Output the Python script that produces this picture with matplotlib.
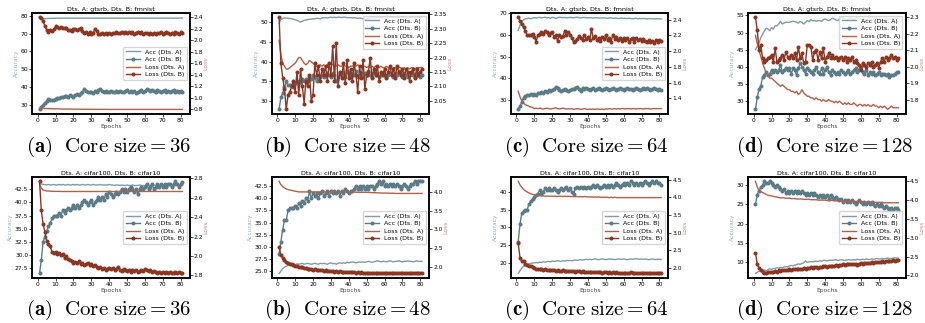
import numpy as np
import matplotlib
matplotlib.use("Agg")
import matplotlib.pyplot as plt
from matplotlib.ticker import MultipleLocator

plt.rcParams['mathtext.fontset'] = 'cm'

epochs = np.arange(1, 82)

# ---- row 1: gtsrb / fmnist ----
top_a_acc_a = [79.2, 78.5, 78.3, 78.4, 78.5, 78.5, 78.6, 78.5, 78.6, 78.6,
               78.7, 78.6, 78.6, 78.7, 78.6, 78.7, 78.7, 78.6, 78.7, 78.7,
               78.6, 78.7, 78.7, 78.6, 78.7, 78.7, 78.6, 78.7, 78.6, 78.7,
               78.7, 78.6, 78.7, 78.7, 78.6, 78.7, 78.7, 78.6, 78.7, 78.7,
               78.6, 78.7, 78.7, 78.6, 78.7, 78.6, 78.7, 78.7, 78.6, 78.7,
               78.7, 78.6, 78.7, 78.7, 78.6, 78.7, 78.6, 78.7, 78.7, 78.6,
               78.7, 78.7, 78.6, 78.7, 78.6, 78.7, 78.7, 78.6, 78.7, 78.7,
               78.6, 78.7, 78.6, 78.7, 78.7, 78.6, 78.7, 78.6, 78.7, 78.7,
               78.7]
top_a_acc_b = [27.5, 29.0, 30.0, 31.0, 32.0, 33.5, 33.0, 32.5, 33.0, 33.5,
               34.0, 34.0, 34.5, 34.5, 35.0, 35.0, 34.5, 35.5, 35.0, 34.5,
               35.5, 36.0, 35.5, 36.5, 37.0, 39.0, 38.0, 37.0, 37.0, 37.0,
               36.5, 38.0, 37.0, 38.5, 39.0, 38.0, 37.5, 38.0, 37.0, 37.5,
               38.0, 37.5, 37.0, 38.0, 37.5, 38.0, 37.5, 37.0, 38.0, 38.5,
               37.5, 38.0, 37.5, 38.0, 36.5, 37.5, 38.0, 38.5, 37.5, 38.0,
               39.0, 38.5, 38.0, 38.5, 38.0, 37.5, 38.5, 38.0, 37.5, 38.0,
               38.5, 37.5, 38.0, 37.5, 38.0, 38.5, 37.5, 38.0, 37.5, 38.0,
               37.5]
top_a_loss_a = [0.82, 0.82, 0.818, 0.816, 0.815, 0.814, 0.813, 0.812, 0.811, 0.81,
                0.81, 0.809, 0.808, 0.808, 0.807, 0.806, 0.806, 0.805, 0.805, 0.804,
                0.804, 0.804, 0.803, 0.803, 0.803, 0.803, 0.802, 0.802, 0.802, 0.802,
                0.802, 0.801, 0.801, 0.801, 0.801, 0.801, 0.801, 0.801, 0.8, 0.8,
                0.8, 0.8, 0.8, 0.8, 0.8, 0.8, 0.8, 0.8, 0.8, 0.8,
                0.8, 0.8, 0.8, 0.8, 0.8, 0.8, 0.8, 0.8, 0.8, 0.8,
                0.8, 0.8, 0.8, 0.8, 0.8, 0.8, 0.8, 0.8, 0.8, 0.8,
                0.8, 0.8, 0.8, 0.8, 0.8, 0.8, 0.8, 0.8, 0.8, 0.8,
                0.8]
top_a_loss_b = [2.40, 2.39, 2.33, 2.25, 2.18, 2.15, 2.17, 2.16, 2.19, 2.24,
                2.23, 2.22, 2.23, 2.21, 2.22, 2.21, 2.18, 2.17, 2.16, 2.20,
                2.19, 2.17, 2.19, 2.21, 2.16, 2.13, 2.15, 2.11, 2.14, 2.10,
                2.12, 2.20, 2.16, 2.11, 2.10, 2.12, 2.11, 2.13, 2.11, 2.12,
                2.10, 2.13, 2.12, 2.14, 2.12, 2.13, 2.15, 2.12, 2.14, 2.13,
                2.15, 2.12, 2.14, 2.11, 2.13, 2.15, 2.12, 2.14, 2.10, 2.13,
                2.12, 2.11, 2.13, 2.10, 2.12, 2.11, 2.13, 2.12, 2.14, 2.11,
                2.13, 2.15, 2.12, 2.10, 2.13, 2.11, 2.14, 2.12, 2.10, 2.14,
                2.13]

top_b_acc_a = [49.6, 50.5, 50.8, 50.9, 50.9, 50.8, 50.8, 50.7, 50.6, 50.5,
               50.3, 50.1, 49.9, 50.1, 50.3, 50.4, 50.5, 50.6, 50.6, 50.7,
               50.7, 50.8, 50.8, 50.7, 50.9, 51.0, 51.0, 50.9, 51.0, 51.1,
               51.0, 51.1, 51.0, 51.1, 51.1, 51.0, 51.1, 51.1, 51.0, 51.0,
               51.0, 50.9, 51.0, 50.9, 50.8, 50.9, 50.8, 50.7, 50.6, 50.6,
               50.8, 50.9, 51.0, 51.0, 50.9, 51.0, 51.0, 50.9, 51.0, 51.0,
               50.9, 51.0, 51.0, 51.1, 51.0, 51.0, 50.9, 51.0, 51.0, 51.1,
               51.0, 51.0, 50.9, 51.0, 51.0, 51.0, 50.9, 51.0, 51.0, 51.1,
               51.0]
top_b_acc_b = [28.0, 31.0, 32.0, 33.5, 35.0, 34.0, 34.0, 34.0, 33.5, 34.5,
               35.0, 34.5, 35.0, 35.5, 35.0, 35.5, 35.0, 36.0, 35.5, 36.5,
               36.0, 35.0, 35.5, 36.0, 36.5, 36.0, 36.5, 37.0, 36.5, 36.0,
               37.0, 36.5, 35.0, 36.0, 37.0, 36.5, 37.0, 36.0, 37.5, 36.5,
               36.0, 37.0, 36.5, 37.5, 36.0, 36.5, 37.0, 36.0, 37.0, 36.5,
               37.5, 36.5, 36.0, 37.0, 36.5, 37.0, 36.0, 36.5, 37.0, 36.5,
               36.0, 36.5, 37.0, 36.5, 36.0, 37.0, 36.5, 37.5, 36.5, 36.0,
               37.0, 36.5, 36.0, 36.5, 37.0, 36.5, 36.0, 37.0, 36.5, 36.0,
               36.5]
top_b_loss_a = [2.26, 2.21, 2.18, 2.17, 2.16, 2.16, 2.165, 2.17, 2.175, 2.18,
                2.19, 2.20, 2.20, 2.19, 2.18, 2.175, 2.18, 2.19, 2.185, 2.18,
                2.175, 2.17, 2.17, 2.175, 2.17, 2.175, 2.17, 2.175, 2.18, 2.18,
                2.175, 2.17, 2.17, 2.175, 2.17, 2.17, 2.175, 2.17, 2.17, 2.165,
                2.17, 2.17, 2.175, 2.17, 2.175, 2.17, 2.165, 2.17, 2.17, 2.165,
                2.17, 2.165, 2.17, 2.165, 2.17, 2.165, 2.165, 2.17, 2.165, 2.165,
                2.17, 2.165, 2.165, 2.16, 2.165, 2.165, 2.16, 2.165, 2.165, 2.16,
                2.165, 2.16, 2.165, 2.16, 2.165, 2.165, 2.16, 2.165, 2.165, 2.165,
                2.165]
top_b_loss_b = [2.34, 2.18, 2.13, 2.09, 2.02, 2.07, 2.08, 2.10, 2.12, 2.08,
                2.15, 2.07, 2.16, 2.10, 2.04, 2.12, 2.10, 2.14, 2.05, 2.07,
                2.18, 2.14, 2.17, 2.12, 2.16, 2.14, 2.17, 2.12, 2.18, 2.14,
                2.24, 2.12, 2.25, 2.10, 2.15, 2.13, 2.18, 2.11, 2.19, 2.13,
                2.16, 2.12, 2.18, 2.14, 2.08, 2.17, 2.13, 2.19, 2.09, 2.14,
                2.15, 2.20, 2.13, 2.16, 2.14, 2.17, 2.12, 2.15, 2.14, 2.16,
                2.13, 2.15, 2.17, 2.14, 2.16, 2.13, 2.17, 2.15, 2.14, 2.16,
                2.13, 2.16, 2.15, 2.12, 2.15, 2.16, 2.13, 2.16, 2.14, 2.15,
                2.16]

top_c_acc_a = [62.0, 64.5, 66.0, 67.0, 67.5, 67.5, 67.8, 67.5, 67.8, 68.0,
               67.8, 68.0, 68.1, 67.9, 68.0, 68.2, 67.9, 68.0, 67.7, 68.1,
               68.0, 67.6, 68.0, 68.2, 68.1, 68.0, 68.1, 67.9, 68.0, 68.1,
               68.0, 67.9, 68.1, 68.2, 68.0, 67.9, 68.0, 68.1, 67.9, 68.0,
               67.9, 68.0, 67.8, 67.9, 68.0, 67.8, 67.9, 67.8, 67.9, 67.8,
               67.7, 67.8, 67.9, 67.7, 67.8, 67.7, 67.6, 67.7, 67.8, 67.6,
               67.7, 67.6, 67.7, 67.6, 67.5, 67.6, 67.7, 67.5, 67.6, 67.5,
               67.6, 67.5, 67.4, 67.5, 67.6, 67.4, 67.5, 67.4, 67.5, 67.4,
               67.4]
top_c_acc_b = [25.5, 27.0, 29.0, 31.0, 31.5, 32.0, 32.0, 32.5, 32.0, 32.5,
               32.0, 33.0, 33.0, 33.5, 33.0, 34.0, 33.5, 34.5, 34.0, 34.5,
               35.0, 36.0, 35.5, 34.5, 34.0, 34.5, 35.0, 34.5, 34.0, 34.5,
               35.0, 35.0, 35.5, 36.0, 35.0, 34.0, 35.5, 35.0, 35.5, 35.0,
               34.5, 35.0, 35.5, 34.5, 35.0, 35.5, 35.0, 34.5, 35.0, 35.5,
               35.0, 34.5, 35.0, 35.5, 35.0, 34.5, 35.0, 35.5, 35.0, 34.5,
               35.0, 35.5, 35.0, 35.0, 34.5, 35.0, 35.5, 35.0, 34.5, 35.0,
               35.5, 35.0, 35.5, 35.0, 34.5, 35.0, 35.5, 35.0, 34.5, 35.0,
               34.5]
top_c_loss_a = [1.49, 1.42, 1.37, 1.34, 1.32, 1.31, 1.30, 1.29, 1.285, 1.27,
                1.275, 1.27, 1.275, 1.27, 1.265, 1.27, 1.275, 1.27, 1.265, 1.27,
                1.275, 1.28, 1.27, 1.265, 1.27, 1.275, 1.27, 1.265, 1.27, 1.265,
                1.27, 1.26, 1.265, 1.27, 1.265, 1.26, 1.265, 1.27, 1.265, 1.26,
                1.265, 1.26, 1.265, 1.26, 1.265, 1.265, 1.26, 1.265, 1.26, 1.265,
                1.265, 1.27, 1.265, 1.265, 1.27, 1.265, 1.27, 1.265, 1.27, 1.27,
                1.265, 1.27, 1.27, 1.265, 1.27, 1.27, 1.265, 1.27, 1.27, 1.27,
                1.265, 1.27, 1.27, 1.27, 1.265, 1.27, 1.27, 1.27, 1.27, 1.27,
                1.27]
top_c_loss_b = [2.43, 2.38, 2.35, 2.30, 2.26, 2.20, 2.21, 2.20, 2.22, 2.18,
                2.12, 2.20, 2.22, 2.24, 2.22, 2.26, 2.24, 2.20, 2.23, 2.24,
                2.18, 2.20, 2.13, 2.20, 2.18, 2.19, 2.25, 2.20, 2.24, 2.21,
                2.17, 2.11, 2.13, 2.15, 2.19, 2.17, 2.14, 2.20, 2.15, 2.18,
                2.14, 2.28, 2.16, 2.19, 2.14, 2.17, 2.13, 2.18, 2.15, 2.20,
                2.14, 2.17, 2.12, 2.21, 2.15, 2.18, 2.14, 2.16, 2.13, 2.17,
                2.14, 2.16, 2.12, 2.15, 2.17, 2.11, 2.16, 2.14, 2.15, 2.13,
                2.15, 2.13, 2.12, 2.14, 2.11, 2.13, 2.10, 2.14, 2.12, 2.14,
                2.13]

top_d_acc_a = [45.0, 46.0, 47.0, 48.5, 49.5, 50.5, 51.3, 51.0, 50.5, 51.5,
               51.0, 52.0, 52.0, 52.5, 53.3, 52.5, 52.8, 53.0, 53.0, 53.0,
               53.2, 53.3, 53.2, 53.0, 52.8, 53.3, 53.0, 52.5, 53.0, 53.5,
               53.2, 53.8, 53.5, 53.5, 53.3, 53.5, 53.5, 53.3, 53.8, 54.0,
               53.7, 53.5, 53.8, 54.2, 54.0, 53.7, 53.5, 54.0, 54.3, 54.5,
               54.0, 53.7, 54.0, 54.2, 54.0, 53.8, 54.1, 54.3, 54.0, 53.9,
               54.2, 54.0, 53.8, 54.1, 54.3, 54.0, 53.9, 54.2, 54.1, 53.9,
               54.0, 54.2, 54.0, 53.8, 54.1, 54.0, 53.9, 54.1, 54.0, 54.1,
               54.0]
top_d_acc_b = [27.5, 31.0, 33.5, 34.5, 37.0, 37.5, 38.5, 37.5, 38.0, 39.0,
               38.5, 39.0, 38.5, 39.0, 40.5, 38.5, 39.0, 39.5, 39.0, 39.5,
               38.0, 39.5, 39.0, 37.5, 39.5, 41.0, 40.0, 39.0, 38.0, 39.5,
               39.0, 38.5, 38.0, 39.0, 40.0, 38.5, 38.0, 39.5, 38.0, 39.0,
               40.0, 38.5, 37.5, 39.0, 38.5, 38.0, 38.5, 38.0, 39.0, 38.5,
               38.0, 38.5, 39.0, 38.0, 38.5, 39.0, 39.5, 38.5, 39.0, 40.0,
               38.5, 38.0, 39.0, 37.5, 38.5, 38.0, 38.5, 37.5, 38.0, 38.5,
               37.5, 38.0, 38.0, 37.5, 38.0, 37.0, 37.5, 37.5, 38.0, 38.5,
               38.5]
top_d_loss_a = [2.19, 2.14, 2.10, 2.06, 2.02, 1.99, 1.96, 1.95, 1.93, 1.93,
                1.92, 1.91, 1.90, 1.89, 1.88, 1.89, 1.88, 1.87, 1.86, 1.86,
                1.85, 1.85, 1.84, 1.85, 1.83, 1.84, 1.86, 1.84, 1.83, 1.82,
                1.82, 1.81, 1.81, 1.80, 1.81, 1.80, 1.80, 1.79, 1.80, 1.79,
                1.79, 1.80, 1.79, 1.79, 1.78, 1.79, 1.78, 1.79, 1.78, 1.77,
                1.78, 1.77, 1.78, 1.77, 1.77, 1.78, 1.77, 1.76, 1.77, 1.77,
                1.76, 1.77, 1.76, 1.77, 1.76, 1.76, 1.77, 1.76, 1.76, 1.75,
                1.76, 1.75, 1.76, 1.75, 1.74, 1.75, 1.76, 1.75, 1.75, 1.75,
                1.75]
top_d_loss_b = [2.30, 2.22, 2.10, 2.13, 2.05, 2.03, 2.04, 2.05, 2.06, 2.07,
                2.03, 2.11, 2.03, 2.04, 2.05, 2.07, 2.04, 2.09, 2.06, 2.05,
                2.07, 2.05, 2.08, 2.04, 2.12, 2.05, 2.08, 2.02, 2.03, 2.13,
                2.13, 2.12, 2.04, 2.09, 2.10, 2.04, 2.09, 2.05, 2.11, 2.03,
                2.06, 2.08, 2.05, 2.07, 2.05, 2.06, 2.04, 2.05, 2.06, 2.04,
                2.06, 2.03, 2.05, 2.04, 2.06, 2.03, 2.04, 2.02, 2.01, 1.98,
                2.02, 2.01, 2.00, 2.02, 2.01, 2.03, 2.00, 2.01, 2.02, 1.99,
                2.03, 2.05, 2.03, 2.06, 2.04, 2.05, 2.07, 2.05, 2.06, 2.04,
                2.05]

# ---- row 2: cifar100 / cifar10 ----
bot_a_acc_a = [43.7, 43.5, 43.4, 43.4, 43.3, 43.4, 43.3, 43.3, 43.4, 43.3,
               43.3, 43.4, 43.3, 43.4, 43.3, 43.3, 43.4, 43.3, 43.3, 43.4,
               43.3, 43.4, 43.3, 43.3, 43.4, 43.3, 43.3, 43.4, 43.3, 43.3,
               43.4, 43.3, 43.3, 43.3, 43.4, 43.3, 43.3, 43.3, 43.3, 43.4,
               43.3, 43.3, 43.2, 43.3, 43.3, 43.2, 43.3, 43.2, 43.2, 43.3,
               43.2, 43.2, 43.3, 43.2, 43.2, 43.2, 43.3, 43.2, 43.2, 43.2,
               43.3, 43.2, 43.2, 43.3, 43.2, 43.2, 43.2, 43.3, 43.2, 43.2,
               43.2, 43.3, 43.2, 43.2, 43.2, 43.3, 43.2, 43.2, 43.2, 43.3,
               43.2]
bot_a_acc_b = [26.5, 29.0, 32.5, 33.5, 34.5, 35.5, 36.0, 37.0, 37.5, 37.5,
               37.5, 38.0, 37.5, 38.5, 38.0, 38.5, 39.0, 38.5, 39.0, 39.5,
               39.0, 39.5, 39.0, 39.5, 40.0, 40.5, 40.0, 39.5, 40.0, 40.5,
               39.5, 40.0, 40.5, 41.0, 40.5, 41.0, 40.5, 41.5, 41.0, 42.0,
               41.5, 41.0, 41.5, 42.0, 41.5, 42.0, 42.5, 42.0, 42.5, 42.0,
               42.5, 43.0, 42.5, 42.0, 42.5, 41.5, 42.5, 43.0, 42.5, 43.0,
               43.5, 42.5, 43.0, 43.5, 42.5, 43.0, 43.5, 43.0, 43.5, 43.0,
               43.5, 43.0, 43.5, 43.5, 43.0, 43.5, 44.0, 43.5, 43.0, 43.5,
               43.8]
bot_a_loss_a = [2.74, 2.70, 2.68, 2.675, 2.67, 2.67, 2.668, 2.667, 2.667, 2.666,
                2.666, 2.666, 2.665, 2.665, 2.665, 2.665, 2.665, 2.665, 2.665, 2.665,
                2.665, 2.665, 2.665, 2.665, 2.665, 2.665, 2.665, 2.665, 2.665, 2.665,
                2.665, 2.665, 2.665, 2.665, 2.665, 2.665, 2.665, 2.665, 2.665, 2.665,
                2.665, 2.665, 2.665, 2.665, 2.665, 2.665, 2.665, 2.665, 2.665, 2.665,
                2.665, 2.665, 2.665, 2.665, 2.665, 2.665, 2.665, 2.665, 2.665, 2.665,
                2.665, 2.665, 2.665, 2.665, 2.665, 2.665, 2.665, 2.665, 2.665, 2.665,
                2.665, 2.665, 2.665, 2.665, 2.665, 2.665, 2.665, 2.665, 2.665, 2.665,
                2.665]
bot_a_loss_b = [2.77, 2.47, 2.33, 2.25, 2.15, 2.12, 2.10, 2.04, 2.03, 2.04,
                2.02, 2.03, 2.01, 2.02, 1.98, 2.00, 1.97, 1.96, 1.95, 1.93,
                1.94, 1.93, 1.95, 1.92, 1.93, 1.91, 1.92, 1.93, 1.91, 1.92,
                1.90, 1.91, 1.89, 1.88, 1.89, 1.87, 1.88, 1.86, 1.87, 1.88,
                1.87, 1.88, 1.86, 1.87, 1.89, 1.86, 1.85, 1.87, 1.86, 1.85,
                1.86, 1.84, 1.86, 1.85, 1.86, 1.84, 1.85, 1.86, 1.85, 1.87,
                1.86, 1.85, 1.86, 1.84, 1.85, 1.84, 1.83, 1.84, 1.83, 1.84,
                1.83, 1.84, 1.83, 1.84, 1.83, 1.83, 1.84, 1.83, 1.84, 1.83,
                1.82]

bot_b_acc_a = [24.5, 25.0, 25.5, 25.8, 26.0, 26.2, 26.3, 26.4, 26.5, 26.3,
               26.5, 26.4, 26.5, 26.6, 26.4, 26.5, 26.6, 26.5, 26.4, 26.5,
               26.6, 26.5, 26.4, 26.6, 26.5, 26.6, 26.5, 26.4, 26.6, 26.7,
               26.5, 26.6, 26.4, 26.6, 26.7, 26.6, 26.7, 26.6, 26.8, 26.7,
               26.8, 26.9, 26.8, 26.7, 26.8, 26.9, 26.8, 26.9, 26.8, 26.9,
               27.0, 26.9, 26.8, 26.9, 27.0, 27.1, 27.0, 26.9, 27.0, 27.0,
               26.9, 27.0, 27.1, 27.0, 26.9, 27.0, 27.0, 27.1, 27.0, 26.9,
               27.0, 27.0, 27.1, 27.0, 27.0, 26.9, 27.0, 27.1, 27.0, 27.0,
               27.0]
bot_b_acc_b = [28.5, 31.0, 33.5, 35.5, 35.5, 37.5, 38.0, 38.0, 38.0, 38.5,
               38.0, 39.0, 38.5, 39.5, 39.0, 40.0, 39.5, 41.5, 40.0, 41.0,
               40.5, 41.0, 40.0, 41.0, 41.5, 40.5, 41.0, 41.5, 40.5, 41.5,
               41.0, 41.5, 41.0, 41.5, 40.5, 41.5, 41.0, 42.0, 41.5, 41.0,
               41.5, 41.5, 42.0, 42.5, 42.0, 42.5, 42.0, 42.5, 42.0, 42.5,
               42.0, 42.5, 42.5, 42.0, 42.5, 43.0, 43.5, 43.0, 43.5, 42.5,
               43.0, 42.5, 43.0, 42.5, 43.0, 42.5, 43.0, 42.5, 42.0, 42.5,
               43.0, 42.5, 42.0, 42.5, 43.0, 43.0, 43.5, 43.0, 43.5, 43.5,
               43.5]
bot_b_loss_a = [4.27, 4.18, 4.13, 4.10, 4.07, 4.05, 4.04, 4.03, 4.02, 4.01,
                4.00, 3.99, 3.99, 3.99, 3.99, 3.99, 3.99, 3.99, 3.99, 3.99,
                3.99, 3.99, 3.99, 3.99, 3.99, 3.99, 3.99, 3.99, 3.99, 3.99,
                3.99, 3.99, 3.99, 3.99, 3.99, 3.99, 3.99, 3.99, 3.99, 3.99,
                3.985, 3.985, 3.985, 3.985, 3.98, 3.98, 3.98, 3.98, 3.98, 3.98,
                3.975, 3.975, 3.97, 3.97, 3.97, 3.965, 3.965, 3.96, 3.96, 3.96,
                3.96, 3.955, 3.955, 3.955, 3.955, 3.95, 3.95, 3.95, 3.95, 3.95,
                3.95, 3.95, 3.95, 3.95, 3.95, 3.95, 3.95, 3.95, 3.95, 3.95,
                3.95]
bot_b_loss_b = [2.55, 2.32, 2.25, 2.20, 2.15, 2.12, 2.10, 2.08, 2.06, 2.04,
                2.03, 2.02, 2.00, 2.01, 1.99, 1.98, 1.97, 1.96, 1.95, 1.94,
                1.95, 1.93, 1.94, 1.92, 1.93, 1.91, 1.92, 1.90, 1.91, 1.90,
                1.91, 1.89, 1.90, 1.89, 1.90, 1.88, 1.89, 1.88, 1.89, 1.88,
                1.87, 1.88, 1.87, 1.86, 1.87, 1.86, 1.87, 1.86, 1.85, 1.86,
                1.85, 1.86, 1.85, 1.86, 1.85, 1.84, 1.85, 1.84, 1.85, 1.84,
                1.85, 1.84, 1.85, 1.85, 1.84, 1.85, 1.84, 1.85, 1.84, 1.85,
                1.85, 1.84, 1.85, 1.84, 1.85, 1.84, 1.85, 1.84, 1.85, 1.84,
                1.85]

bot_c_acc_a = [17.0, 17.8, 18.5, 19.0, 19.3, 19.5, 19.7, 19.8, 20.0, 20.0,
               20.1, 20.0, 20.2, 20.1, 20.3, 20.2, 20.3, 20.4, 20.3, 20.5,
               20.4, 20.5, 20.6, 20.5, 20.4, 20.6, 20.5, 20.7, 20.6, 20.7,
               20.6, 20.7, 20.8, 20.7, 20.8, 20.9, 20.8, 20.9, 21.0, 20.9,
               21.0, 20.9, 21.0, 21.1, 21.0, 20.9, 21.0, 21.1, 21.0, 20.9,
               21.0, 21.1, 21.0, 21.0, 20.9, 21.0, 21.1, 21.0, 21.0, 21.1,
               21.0, 20.9, 21.0, 21.1, 21.0, 21.1, 21.2, 21.1, 21.0, 21.1,
               21.0, 21.1, 21.0, 20.9, 21.0, 21.1, 21.0, 20.9, 21.0, 21.0,
               21.0]
bot_c_acc_b = [26.0, 31.0, 34.0, 34.5, 35.0, 35.0, 36.5, 37.5, 38.0, 38.5,
               39.0, 39.5, 40.5, 39.5, 40.0, 41.0, 40.5, 41.0, 40.5, 40.5,
               41.0, 40.5, 40.0, 40.5, 41.0, 40.5, 41.0, 41.5, 40.5, 41.0,
               40.0, 39.5, 41.0, 41.5, 41.0, 41.5, 41.0, 41.5, 41.0, 41.5,
               41.0, 41.5, 42.0, 41.5, 42.0, 41.5, 41.0, 41.5, 42.0, 41.5,
               42.0, 41.5, 42.0, 41.5, 42.0, 42.5, 42.0, 41.5, 42.0, 42.5,
               42.0, 42.5, 42.0, 43.0, 42.5, 42.0, 42.5, 42.0, 42.5, 42.0,
               42.5, 43.0, 42.5, 42.0, 42.5, 43.0, 42.5, 43.0, 42.5, 42.5,
               42.0]
bot_c_loss_a = [4.45, 4.35, 4.28, 4.22, 4.18, 4.15, 4.12, 4.10, 4.08, 4.07,
                4.06, 4.05, 4.05, 4.04, 4.04, 4.03, 4.03, 4.03, 4.03, 4.03,
                4.03, 4.03, 4.02, 4.03, 4.03, 4.02, 4.03, 4.02, 4.03, 4.02,
                4.02, 4.02, 4.02, 4.02, 4.01, 4.02, 4.01, 4.02, 4.01, 4.01,
                4.01, 4.01, 4.00, 4.01, 4.00, 4.01, 4.00, 4.00, 4.00, 4.00,
                4.00, 3.99, 4.00, 3.99, 4.00, 3.99, 3.99, 3.99, 3.99, 3.99,
                3.99, 3.99, 3.99, 3.99, 3.99, 3.99, 3.99, 3.99, 3.99, 3.99,
                3.99, 3.99, 3.99, 3.99, 3.99, 3.99, 3.99, 3.99, 3.99, 3.99,
                3.99]
bot_c_loss_b = [2.70, 2.30, 2.20, 2.20, 2.12, 2.10, 2.07, 2.05, 2.02, 2.00,
                1.99, 1.98, 1.97, 1.97, 1.96, 1.97, 1.95, 1.96, 1.94, 1.95,
                1.94, 1.93, 1.95, 1.93, 1.92, 1.94, 1.92, 1.93, 1.91, 1.92,
                1.91, 1.92, 1.90, 1.91, 1.92, 1.90, 1.91, 1.89, 1.90, 1.90,
                1.89, 1.90, 1.88, 1.89, 1.90, 1.88, 1.89, 1.87, 1.88, 1.88,
                1.87, 1.89, 1.87, 1.88, 1.86, 1.88, 1.87, 1.86, 1.87, 1.87,
                1.86, 1.87, 1.86, 1.88, 1.86, 1.87, 1.86, 1.85, 1.87, 1.86,
                1.86, 1.85, 1.87, 1.86, 1.85, 1.86, 1.86, 1.85, 1.86, 1.85,
                1.86]

bot_d_acc_a = [7.0, 7.3, 7.6, 7.5, 7.8, 7.9, 7.7, 8.0, 8.2, 8.1,
               8.3, 8.3, 8.5, 8.4, 8.6, 8.5, 8.7, 8.8, 8.7, 9.0,
               9.1, 9.0, 9.2, 9.3, 9.5, 9.4, 9.6, 9.8, 10.3, 9.9,
               10.0, 10.1, 10.0, 10.2, 10.2, 10.1, 10.3, 10.2, 10.4, 10.4,
               10.3, 10.4, 10.5, 10.4, 10.5, 10.6, 10.4, 10.5, 10.6, 10.5,
               10.4, 10.5, 10.6, 10.5, 10.5, 10.6, 10.5, 10.7, 10.6, 10.6,
               10.7, 10.6, 10.8, 10.7, 10.6, 10.8, 10.7, 10.8, 10.9, 10.8,
               10.8, 10.9, 10.8, 10.9, 11.0, 10.9, 10.9, 11.0, 11.1, 11.0,
               11.0]
bot_d_acc_b = [25.0, 27.5, 28.5, 29.5, 30.0, 31.0, 30.5, 30.5, 31.0, 30.5,
               30.0, 29.5, 30.0, 29.5, 29.0, 28.5, 29.0, 28.0, 28.5, 28.0,
               28.5, 28.0, 28.5, 28.0, 28.5, 28.0, 28.5, 28.0, 27.5, 28.0,
               27.5, 28.0, 27.5, 28.0, 27.5, 27.0, 27.5, 27.0, 27.5, 27.0,
               27.5, 26.5, 27.5, 27.0, 26.5, 27.0, 26.5, 26.0, 26.5, 25.5,
               26.0, 25.5, 26.0, 25.5, 26.0, 25.5, 25.0, 25.5, 26.0, 25.5,
               25.0, 25.5, 25.0, 25.5, 25.0, 25.5, 25.0, 24.5, 25.0, 24.5,
               25.0, 24.5, 24.0, 24.5, 24.0, 23.5, 24.0, 23.5, 24.0, 24.0,
               23.5]
bot_d_loss_a = [4.50, 4.35, 4.25, 4.23, 4.20, 4.18, 4.15, 4.13, 4.12, 4.11,
                4.10, 4.09, 4.08, 4.07, 4.06, 4.06, 4.06, 4.05, 4.05, 4.05,
                4.04, 4.04, 4.04, 4.03, 4.03, 4.03, 4.03, 4.02, 4.02, 4.02,
                4.02, 4.01, 4.01, 4.01, 4.01, 4.00, 4.00, 4.00, 4.00, 4.00,
                3.99, 3.99, 3.99, 3.99, 3.99, 3.98, 3.98, 3.98, 3.98, 3.98,
                3.97, 3.97, 3.97, 3.97, 3.96, 3.96, 3.96, 3.96, 3.96, 3.96,
                3.95, 3.95, 3.95, 3.95, 3.95, 3.95, 3.94, 3.94, 3.94, 3.94,
                3.94, 3.94, 3.93, 3.93, 3.93, 3.93, 3.93, 3.93, 3.93, 3.93,
                3.93]
bot_d_loss_b = [2.60, 2.30, 2.20, 2.15, 2.10, 2.07, 2.05, 2.10, 2.08, 2.10,
                2.09, 2.12, 2.10, 2.13, 2.12, 2.14, 2.13, 2.15, 2.14, 2.16,
                2.15, 2.16, 2.17, 2.16, 2.18, 2.17, 2.18, 2.19, 2.18, 2.20,
                2.19, 2.21, 2.20, 2.22, 2.21, 2.20, 2.23, 2.22, 2.24, 2.25,
                2.23, 2.25, 2.24, 2.26, 2.25, 2.27, 2.26, 2.28, 2.27, 2.29,
                2.28, 2.30, 2.29, 2.30, 2.31, 2.29, 2.31, 2.27, 2.31, 2.32,
                2.31, 2.33, 2.32, 2.34, 2.33, 2.35, 2.34, 2.35, 2.36, 2.35,
                2.36, 2.37, 2.36, 2.38, 2.37, 2.39, 2.38, 2.40, 2.39, 2.41,
                2.40]

titles = ["Dts. A: gtsrb, Dts. B: fmnist", "Dts. A: cifar100, Dts. B: cifar10"]
letters = ["a", "b", "c", "d"]
core_sizes = [36, 48, 64, 128]

# (acc A, acc B, loss A, loss B, legend loc, acc tick step, loss tick step)
panels = [
    [(top_a_acc_a, top_a_acc_b, top_a_loss_a, top_a_loss_b, 'center right', 10, 0.2),
     (top_b_acc_a, top_b_acc_b, top_b_loss_a, top_b_loss_b, 'upper right', 5, 0.05),
     (top_c_acc_a, top_c_acc_b, top_c_loss_a, top_c_loss_b, 'center right', 10, 0.2),
     (top_d_acc_a, top_d_acc_b, top_d_loss_a, top_d_loss_b, 'upper right', 5, 0.1)],
    [(bot_a_acc_a, bot_a_acc_b, bot_a_loss_a, bot_a_loss_b, 'center right', 2.5, 0.2),
     (bot_b_acc_a, bot_b_acc_b, bot_b_loss_a, bot_b_loss_b, 'center right', 2.5, 0.5),
     (bot_c_acc_a, bot_c_acc_b, bot_c_loss_a, bot_c_loss_b, 'center right', 5, 0.5),
     (bot_d_acc_a, bot_d_acc_b, bot_d_loss_a, bot_d_loss_b, 'center right', 5, 0.5)],
]

c_acc_a = '#7f9ba5'
c_acc_b = '#5b7c87'
c_loss_a = '#b1604a'
c_loss_b = '#8a3622'

fs = 4.3
fig = plt.figure(figsize=(9.25, 3.23), dpi=100)

lefts = [0.035, 0.294, 0.5525, 0.809]
bottoms = [0.647, 0.139]
caption_y = [0.545, 0.04]
w, h = 0.170, 0.314

for r in range(2):
    for c in range(4):
        acc_a, acc_b, loss_a, loss_b, loc, acc_step, loss_step = panels[r][c]
        ax = fig.add_axes([lefts[c], bottoms[r], w, h])
        ax2 = ax.twinx()
        l1, = ax.plot(epochs, acc_a, color=c_acc_a, lw=1.0, label='Acc (Dts. A)')
        l2, = ax.plot(epochs, acc_b, color=c_acc_b, lw=1.0, marker='o', ms=1.9,
                      label='Acc (Dts. B)')
        l3, = ax2.plot(epochs, loss_a, color=c_loss_a, lw=1.0, label='Loss (Dts. A)')
        l4, = ax2.plot(epochs, loss_b, color=c_loss_b, lw=1.0, marker='o', ms=1.9,
                       label='Loss (Dts. B)')
        ax.set_xticks(range(0, 81, 10))
        ax.yaxis.set_major_locator(MultipleLocator(acc_step))
        ax2.yaxis.set_major_locator(MultipleLocator(loss_step))
        ax.set_title(titles[r], fontsize=fs + 0.3, pad=1.5)
        ax.set_xlabel('Epochs', fontsize=fs, labelpad=0.5, color='#444444')
        ax.set_ylabel('Accuracy', fontsize=fs, labelpad=1, color='#9ab2ba')
        ax2.set_ylabel('Loss', fontsize=fs, labelpad=0.3, color='#c98b79')
        for a in (ax, ax2):
            a.tick_params(labelsize=fs, length=2, width=0.5, pad=1)
            for s in a.spines.values():
                s.set_linewidth(1.1)
        ax2.legend([l1, l2, l3, l4], [l.get_label() for l in (l1, l2, l3, l4)],
                   loc=loc, fontsize=fs + 0.2, handlelength=2.2, borderpad=0.4,
                   labelspacing=0.35, framealpha=0.8, edgecolor='#cccccc')
        cx = lefts[c] + w / 2 - 0.003
        fig.text(cx, caption_y[r],
                 r"$\mathbf{(%s)}\ \ \mathrm{Core\ size} = %d$" % (letters[c], core_sizes[c]),
                 ha='center', va='center', fontsize=15)

fig.savefig('out.png', dpi=100)
